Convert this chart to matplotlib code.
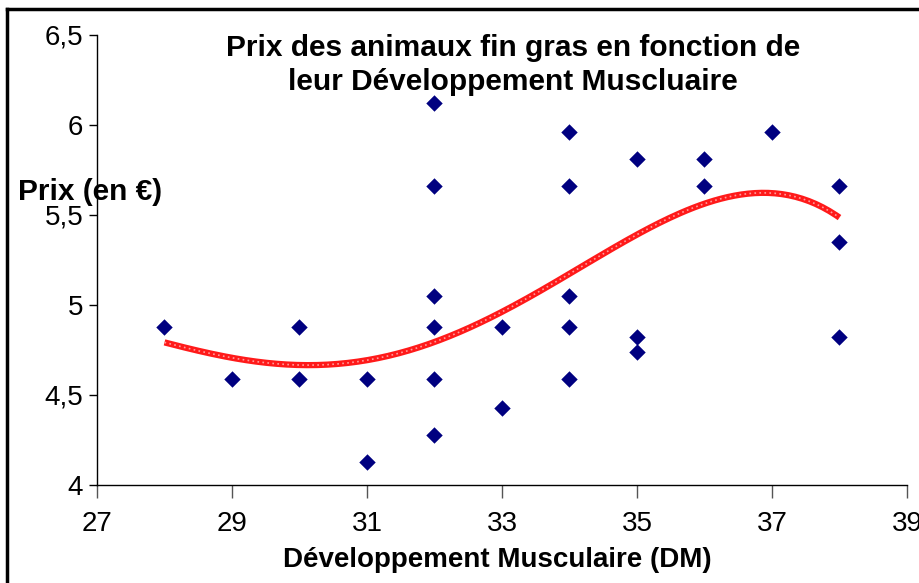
import numpy as np
import matplotlib.pyplot as plt
from matplotlib.lines import Line2D
from matplotlib.ticker import FuncFormatter, MultipleLocator

plt.rcParams['font.family'] = ['Liberation Sans', 'DejaVu Sans']

# Développement musculaire (DM) et prix (en €)
dm = [28, 29, 30, 30, 31, 31,
      32, 32, 32, 32, 32, 32,
      33, 33,
      34, 34, 34, 34, 34,
      35, 35, 35,
      36, 36,
      37,
      38, 38, 38]
prix = [4.88, 4.59, 4.88, 4.59, 4.59, 4.13,
        6.12, 5.66, 5.05, 4.88, 4.59, 4.28,
        4.88, 4.43,
        5.96, 5.66, 5.05, 4.88, 4.59,
        5.81, 4.82, 4.74,
        5.81, 5.66,
        5.96,
        5.66, 5.35, 4.82]

# courbe de tendance (polynomiale)
dm_tend = [28, 29, 30, 31, 32, 33, 34, 35, 36, 37, 38]
prix_tend = [4.79, 4.71, 4.67, 4.69, 4.79, 4.96, 5.18, 5.39, 5.57, 5.61, 5.49]

# lissage polynomial, comme la tendance Excel
coef = np.polyfit(dm_tend, prix_tend, 4)
xs = np.linspace(min(dm_tend), max(dm_tend), 200)
ys = np.polyval(coef, xs)

fig = plt.figure(figsize=(9.2, 5.83), dpi=100)
ax = fig.add_axes([97 / 920, 1 - 485 / 583, 810 / 920, 450 / 583])

ax.plot(xs, ys, color='#ff1a1a', lw=4.5, solid_capstyle='butt', zorder=3)
ax.plot(xs, ys, color='#ff9c9c', lw=1.2, ls=(0, (1, 2)), zorder=4)
ax.scatter(dm, prix, marker='D', s=70, color='#000080', lw=0, zorder=5)

ax.set_xlim(27, 39)
ax.set_ylim(4, 6.5)
ax.set_xticks(np.arange(27, 40, 2))
ax.yaxis.set_major_locator(MultipleLocator(0.5))
ax.yaxis.set_major_formatter(FuncFormatter(lambda v, p: f'{v:g}'.replace('.', ',')))

for s in ['top', 'right']:
    ax.spines[s].set_visible(False)
for s in ['left', 'bottom']:
    ax.spines[s].set_linewidth(1.0)
ax.tick_params(axis='y', direction='out', length=6, width=1, labelsize=20, pad=4)
ax.tick_params(axis='x', direction='out', length=9, width=1, color='#555555',
               labelsize=20, pad=10)

fig.text(513 / 920, 1 - 65 / 583, 'Prix des animaux fin gras en fonction de\nleur Développement Muscluaire',
         ha='center', va='center', fontsize=21.5, fontweight='bold', linespacing=1.25)
fig.text(18 / 920, 1 - 192 / 583, 'Prix (en €)', ha='left', va='center',
         fontsize=21.5, fontweight='bold')
fig.text(497 / 920, 1 - 560 / 583, 'Développement Musculaire (DM)', ha='center', va='center',
         fontsize=20, fontweight='bold')

# cadre du graphique
fig.add_artist(Line2D([7 / 920, 7 / 920], [0, 1 - 9 / 583], color='black', lw=2.5))
fig.add_artist(Line2D([7 / 920, 1], [1 - 9 / 583, 1 - 9 / 583], color='black', lw=2.5))

fig.savefig('out.png', dpi=100)
